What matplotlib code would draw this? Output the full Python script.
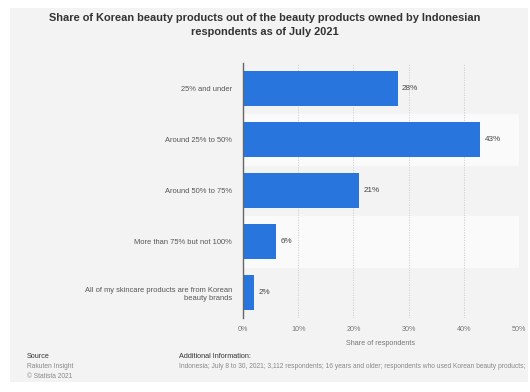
import matplotlib.pyplot as plt
from matplotlib.patches import Rectangle

plt.rcParams['font.family'] = ['Liberation Sans', 'DejaVu Sans']

categories = ["25% and under", "Around 25% to 50%", "Around 50% to 75%",
              "More than 75% but not 100%",
              "All of my skincare products are from Korean\nbeauty brands"]
shares = [28, 43, 21, 6, 2]
ticks = [0, 10, 20, 30, 40, 50]

panel = '#f3f3f3'
fig = plt.figure(figsize=(5.3, 3.92), dpi=100)
fig.patch.set_facecolor('white')
fig.patches.append(Rectangle((10 / 530, 10 / 392), 518 / 530, 374 / 392,
                             transform=fig.transFigure, facecolor=panel,
                             edgecolor='none', zorder=-5))

ax = fig.add_axes([243 / 530, 1 - 318 / 392, 276 / 530, 255 / 392])
ax.set_zorder(2)
ax.set_facecolor(panel)

y = list(range(len(categories)))
# alternate row stripes
for i in y:
    if i % 2 == 1:
        ax.axhspan(i - 0.5, i + 0.5, color='#fafafa', zorder=0)

ax.barh(y, shares, height=0.69, color='#2876dd', zorder=3)
for i, v in zip(y, shares):
    ax.text(v + 0.8, i, f"{v}%", va='center', ha='left', fontsize=5.9, color='#444444')

ax.set_xlim(0, 50)
ax.set_ylim(len(categories) - 0.5, -0.5)
ax.set_xticks(ticks)
ax.set_xticklabels([f"{t}%" for t in ticks], fontsize=5.2, color='#777777')
ax.set_yticks(y)
ax.set_yticklabels(categories, fontsize=5.4, color='#555555', ha='right')
ax.tick_params(axis='both', length=0, pad=8)
ax.tick_params(axis='x', pad=6)
ax.grid(axis='x', color='#cccccc', linestyle=(0, (1.5, 1.5)), linewidth=0.6, zorder=1)
for s in ['top', 'right', 'bottom']:
    ax.spines[s].set_visible(False)
ax.spines['left'].set_color('#666666')
ax.spines['left'].set_linewidth(1.0)
ax.spines['left'].set_zorder(4)
ax.set_xlabel("Share of respondents", fontsize=5.2, color='#777777', labelpad=5)

fig.text(0.5, 1 - 25 / 392,
         "Share of Korean beauty products out of the beauty products owned by Indonesian\n"
         "respondents as of July 2021",
         ha='center', va='center', fontsize=7.9, fontweight='bold', color='#333333',
         linespacing=1.4)

fig.text(27 / 530, 1 - 357 / 392, "Source", fontsize=5.2, color='#333333', va='center')
fig.text(27 / 530, 1 - 367 / 392, "Rakuten Insight", fontsize=4.8, color='#888888', va='center')
fig.text(27 / 530, 1 - 376 / 392, "\u00a9 Statista 2021", fontsize=4.8, color='#888888', va='center')
fig.text(179 / 530, 1 - 357 / 392, "Additional Information:", fontsize=5.2, color='#333333', va='center')
fig.text(179 / 530, 1 - 367 / 392,
         "Indonesia; July 8 to 30, 2021; 3,112 respondents; 16 years and older; "
         "respondents who used Korean beauty products;",
         fontsize=4.8, color='#888888', va='center')

fig.savefig('out.png', dpi=100, facecolor='white')
